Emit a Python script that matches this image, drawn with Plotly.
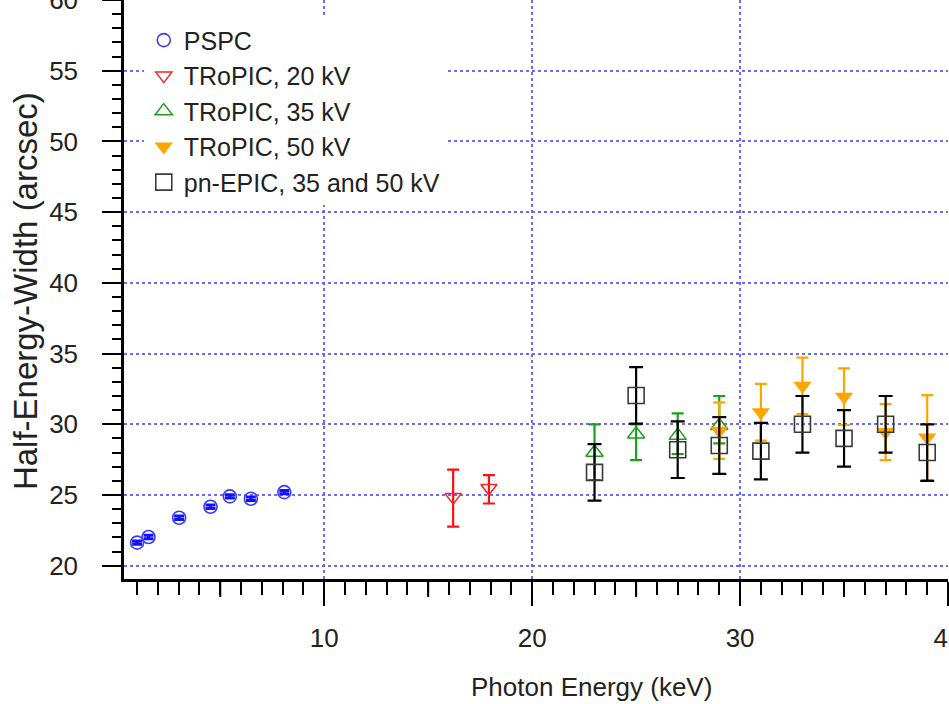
import plotly.graph_objects as go

# ---------------- data ----------------
pspc_x = [1.0, 1.55, 3.02, 4.53, 5.46, 6.47, 8.08]
pspc_y = [21.63, 22.03, 23.39, 24.17, 24.90, 24.73, 25.20]
pspc_err = [0.12, 0.12, 0.12, 0.12, 0.12, 0.12, 0.12]

t20_x = [16.2, 17.92]
t20_y = [24.85, 25.50]
t20_plus = [1.95, 0.90]
t20_minus = [2.09, 1.10]

t35_x = [23, 25, 27, 29]
t35_y = [28.0, 29.3, 29.2, 29.9]
t35_plus = [2.0, 0.7, 1.57, 2.1]
t35_minus = [1.94, 1.83, 1.30, 1.25]

t50_x = [29, 31, 33, 35, 37, 39]
t50_y = [29.55, 30.85, 32.72, 31.95, 29.45, 29.06]
t50_err = [2.0, 2.0, 2.0, 2.0, 1.98, 3.0]

epic_x = [23, 25, 27, 29, 31, 33, 35, 37, 39]
epic_y = [26.6, 32.04, 28.2, 28.5, 28.1, 30.0, 29.0, 30.0, 28.0]
epic_err = [2.0, 2.0, 2.0, 2.0, 2.0, 2.0, 2.0, 2.0, 2.0]

x_major = [10, 20, 30, 40]
x_mid = [5, 15, 25, 35]
y_major = [20, 25, 30, 35, 40, 45, 50, 55, 60]

SANS = "Liberation Sans, Arial, sans-serif"

fig = go.Figure()

fig.add_trace(go.Scatter(
    x=pspc_x, y=pspc_y, mode="markers", name="PSPC",
    marker=dict(symbol="circle-open", size=13, color="#3b3bff", line=dict(width=1.6)),
    error_y=dict(type="data", array=pspc_err, color="#1010ff", thickness=3, width=5),
))
fig.add_trace(go.Scatter(
    x=t20_x, y=t20_y, mode="markers", name="TRoPIC, 20 kV",
    marker=dict(symbol="triangle-down-open", size=14, color="#ff2020", line=dict(width=1.5)),
    error_y=dict(type="data", array=t20_plus, arrayminus=t20_minus, color="#ff1010", thickness=2.2, width=6),
))
fig.add_trace(go.Scatter(
    x=t35_x, y=t35_y, mode="markers", name="TRoPIC, 35 kV",
    marker=dict(symbol="triangle-up-open", size=15, color="#1e9e1e", line=dict(width=1.5)),
    error_y=dict(type="data", array=t35_plus, arrayminus=t35_minus, color="#1e9e1e", thickness=2.2, width=6),
))
fig.add_trace(go.Scatter(
    x=t50_x, y=t50_y, mode="markers", name="TRoPIC, 50 kV",
    marker=dict(symbol="triangle-down", size=16, color="#ffa500", line=dict(width=0)),
    error_y=dict(type="data", array=t50_err, color="#ffa500", thickness=2.2, width=6),
))
fig.add_trace(go.Scatter(
    x=epic_x, y=epic_y, mode="markers", name="pn-EPIC, 35 and 50 kV",
    marker=dict(symbol="square-open", size=16, color="#3a3a3a", line=dict(width=1.6)),
    error_y=dict(type="data", array=epic_err, color="#000000", thickness=2.2, width=7),
))

# medium-length tick marks at the 5 keV positions (x in data units, y in paper units)
PLOT_H = 704 - 125
mid_ticks = [
    dict(type="line", xref="x", yref="paper", x0=v, x1=v, y0=0, y1=-18 / PLOT_H,
         line=dict(color="black", width=2), layer="above")
    for v in x_mid
]

grid_col = "rgba(90,90,255,0.9)"
fig.update_layout(
    width=949, height=704,
    margin=dict(l=124, r=1, t=0, b=125, autoexpand=False),
    paper_bgcolor="white", plot_bgcolor="white",
    showlegend=True,
    shapes=mid_ticks,
    legend=dict(
        x=0.024, y=0.97, xanchor="left", yanchor="top",
        bgcolor="white", borderwidth=0,
        font=dict(family=SANS, size=25, color="#222"),
        itemwidth=30, tracegroupgap=0,
    ),
    xaxis=dict(
        range=[0.37, 40.0], tickmode="array", tickvals=x_major, automargin=False,
        ticks="outside", ticklen=24, tickwidth=2, tickcolor="black",
        showline=True, linecolor="black", linewidth=2.5,
        showgrid=True, gridcolor=grid_col, griddash="dot", gridwidth=1.5,
        zeroline=False, ticklabeloverflow="allow", ticklabelstandoff=10,
        tickfont=dict(family=SANS, size=26, color="#222"),
        minor=dict(dtick=1, tick0=0, ticks="outside", ticklen=13, tickwidth=2,
                   tickcolor="black", showgrid=False),
    ),
    yaxis=dict(
        range=[19.06, 60.0], tickmode="array", tickvals=y_major, automargin=False,
        ticks="outside", ticklen=19, tickwidth=2, tickcolor="black",
        showline=True, linecolor="black", linewidth=2.5,
        showgrid=True, gridcolor=grid_col, griddash="dot", gridwidth=1.5,
        zeroline=False, ticklabeloverflow="allow", ticklabelstandoff=19,
        tickfont=dict(family=SANS, size=26, color="#222"),
        minor=dict(dtick=1, tick0=0, ticks="outside", ticklen=9, tickwidth=2,
                   tickcolor="black", showgrid=False),
    ),
    annotations=[
        dict(text="Photon Energy (keV)", x=0.567, y=-0.1865, xref="paper", yref="paper",
             xanchor="center", yanchor="middle", showarrow=False,
             font=dict(family=SANS, size=26, color="#222")),
        dict(text="Half-Energy-Width (arcsec)", x=-0.1203, y=0.497, xref="paper", yref="paper",
             xanchor="center", yanchor="middle", showarrow=False, textangle=-90,
             font=dict(family=SANS, size=33, color="#222")),
    ],
)

fig.write_html(
    "out.html",
    config={"displayModeBar": False},
    post_script="document.body.style.margin='0px';document.body.style.overflow='hidden';",
)
